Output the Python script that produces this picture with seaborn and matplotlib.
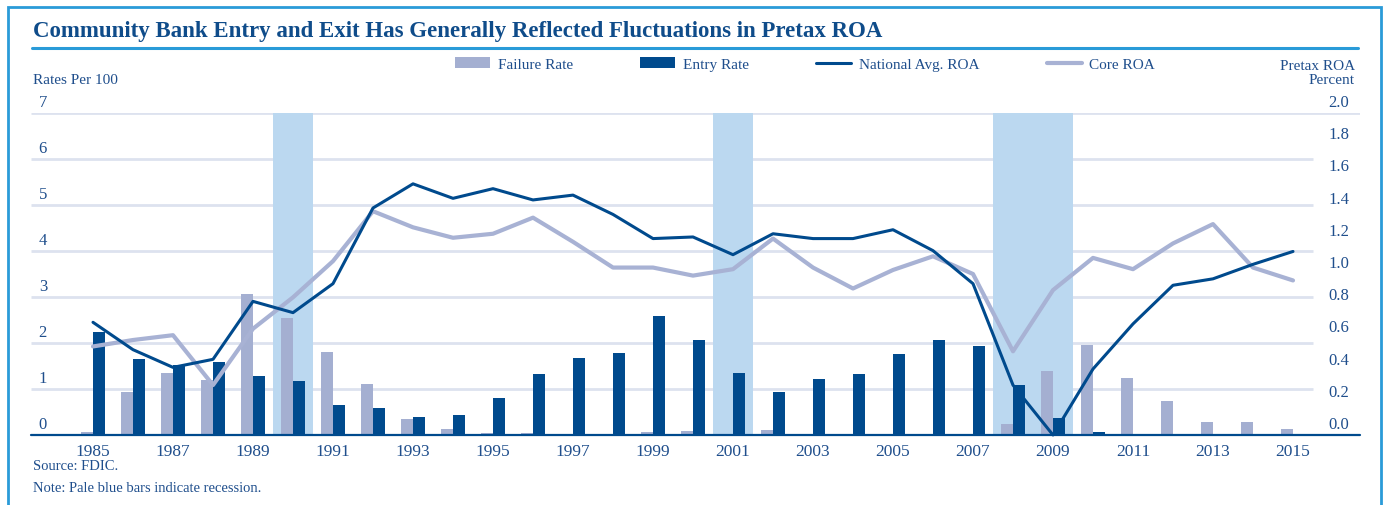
import numpy as np
import pandas as pd
import seaborn as sns
import matplotlib.pyplot as plt
from matplotlib.lines import Line2D
from matplotlib.patches import Rectangle
from matplotlib.transforms import ScaledTranslation

years = list(range(1985, 2016))
failure_rate = [0.06, 0.93, 1.35, 1.20, 3.07, 2.54, 1.80, 1.11, 0.35, 0.13,
                0.05, 0.04, 0.00, 0.00, 0.06, 0.09, 0.03, 0.11, 0.01, 0.03,
                0.00, 0.00, 0.00, 0.24, 1.40, 1.96, 1.24, 0.74, 0.28, 0.28, 0.13]
entry_rate = [2.23, 1.65, 1.52, 1.59, 1.29, 1.17, 0.65, 0.59, 0.40, 0.43,
              0.81, 1.33, 1.67, 1.78, 2.59, 2.07, 1.34, 0.93, 1.22, 1.33,
              1.76, 2.07, 1.94, 1.08, 0.38, 0.07, 0.00, 0.00, 0.00, 0.00, 0.00]
national_roa = [0.70, 0.53, 0.42, 0.47, 0.83, 0.76, 0.94, 1.41, 1.56, 1.47,
                1.53, 1.46, 1.49, 1.37, 1.22, 1.23, 1.12, 1.25, 1.22, 1.22,
                1.275, 1.145, 0.94, 0.31, 0.00, 0.41, 0.69, 0.93, 0.97, 1.06, 1.14]
core_roa = [0.55, 0.59, 0.62, 0.31, 0.66, 0.855, 1.08, 1.39, 1.29, 1.225,
            1.25, 1.35, 1.20, 1.04, 1.04, 0.99, 1.03, 1.22, 1.04, 0.91,
            1.025, 1.11, 1.00, 0.52, 0.90, 1.10, 1.03, 1.19, 1.31, 1.04, 0.96]
recessions = [(1990, 1990), (2001, 2001), (2008, 2009)]

navy = '#004a8d'
light = '#a4afd1'
core_col = '#a8b2d4'
band_col = '#bbd8f0'
grid_col = '#dde2ef'
text_col = '#1f4e8c'
title_col = '#0f4c8a'
frame_col = '#2a9bd8'

sns.set_theme(style='white')
plt.rcParams['font.family'] = ['Liberation Serif', 'DejaVu Serif']

bars = pd.DataFrame({
    'year': years * 2,
    'rate': failure_rate + entry_rate,
    'series': ['Failure Rate'] * len(years) + ['Entry Rate'] * len(years),
})
pos = np.arange(len(years))

fig = plt.figure(figsize=(13.85, 5.06), dpi=100)
ax = fig.add_axes([31 / 1385, 70 / 506, (1360 - 31) / 1385, (436 - 114) / 506])

sns.barplot(data=bars, x='year', y='rate', hue='series', order=years,
            hue_order=['Failure Rate', 'Entry Rate'], palette=[light, navy],
            width=0.6, saturation=1, linewidth=0, ax=ax, zorder=2)
leg = ax.get_legend()
handles = list(leg.legend_handles)
labels = [t.get_text() for t in leg.get_texts()]
leg.remove()

xmin, xmax = -1.55, 31.675
ax.set_xlim(xmin, xmax)
ax.set_ylim(0, 7)

# recession shading
for start, end in recessions:
    ax.axvspan(years.index(start) - 0.5, years.index(end) + 0.5,
               color=band_col, lw=0, zorder=1)

ax.hlines(range(1, 7), xmin, 30.5, color=grid_col, lw=2, zorder=0.5)
ax.hlines(7, xmin, xmax, color=grid_col, lw=2, zorder=0.5)
ax.axhline(0, color=navy, lw=1.6, zorder=4, clip_on=False)

for s in ax.spines.values():
    s.set_visible(False)
ax.set_xlabel('')
ax.set_ylabel('')
ax.set_xticks(pos[::2])
ax.set_xticklabels([str(y) for y in years[::2]])
ax.set_yticks(range(0, 8))
ax.set_yticklabels([str(v) for v in range(0, 8)])
ax.tick_params(axis='x', length=0, pad=6, labelsize=12.5, labelcolor=text_col)
ax.tick_params(axis='y', length=0, pad=-11.5, labelsize=12, labelcolor=text_col)

ax2 = ax.twinx()
sns.lineplot(x=pos, y=core_roa, ax=ax2, color=core_col, linewidth=3,
             label='Core ROA', clip_on=False)
sns.lineplot(x=pos, y=national_roa, ax=ax2, color=navy, linewidth=2.2,
             label='National Avg. ROA', clip_on=False)
h2, l2 = ax2.get_legend_handles_labels()
if ax2.get_legend() is not None:
    ax2.get_legend().remove()
ax2.set_ylim(0, 2.0)
ax2.set_xlim(xmin, xmax)
r_ticks = np.round(np.arange(0, 2.01, 0.2), 1)
ax2.set_yticks(r_ticks)
ax2.set_yticklabels([f'{v:.1f}' for v in r_ticks])
ax2.tick_params(axis='y', length=0, pad=-23, labelsize=12, labelcolor=text_col)
for s in ax2.spines.values():
    s.set_visible(False)

up = ScaledTranslation(0, 13 / 100, fig.dpi_scale_trans)
for lbl in ax.get_yticklabels() + ax2.get_yticklabels():
    lbl.set_transform(lbl.get_transform() + up)

order = {'Failure Rate': 0, 'Entry Rate': 1, 'National Avg. ROA': 2, 'Core ROA': 3}
all_h = dict(zip(labels + l2, handles + h2))
names = sorted(all_h, key=lambda k: order[k])
fig.legend([all_h[n] for n in names], names, loc='center',
           bbox_to_anchor=(805 / 1385, 1 - 65 / 506), ncol=4, frameon=False,
           fontsize=11, handlelength=2.3, handleheight=0.75, handletextpad=0.5,
           columnspacing=4.4, labelcolor=text_col)

fig.text(33 / 1385, 1 - 31 / 506,
         'Community Bank Entry and Exit Has Generally Reflected Fluctuations in Pretax ROA',
         fontsize=16.5, fontweight='bold', color=title_col, va='center')
fig.add_artist(Line2D([32 / 1385, 1358 / 1385], [1 - 49 / 506] * 2,
                      color=frame_col, lw=2.2, transform=fig.transFigure))
fig.add_artist(Rectangle((8 / 1385, -0.05), (1381 - 8) / 1385, 1.05 - 8 / 506,
                         fill=False, ec=frame_col, lw=2, transform=fig.transFigure))

fig.text(33 / 1385, 1 - 80 / 506, 'Rates Per 100', fontsize=11, color=text_col, va='center')
fig.text(1355 / 1385, 1 - 66 / 506, 'Pretax ROA', fontsize=11, color=text_col,
         va='center', ha='right')
fig.text(1355 / 1385, 1 - 81 / 506, 'Percent', fontsize=11, color=text_col,
         va='center', ha='right')
fig.text(33 / 1385, 1 - 467 / 506, 'Source: FDIC.', fontsize=10.5, color=text_col, va='center')
fig.text(33 / 1385, 1 - 489 / 506, 'Note: Pale blue bars indicate recession.',
         fontsize=10.5, color=text_col, va='center')

fig.savefig('out.png', dpi=100)
